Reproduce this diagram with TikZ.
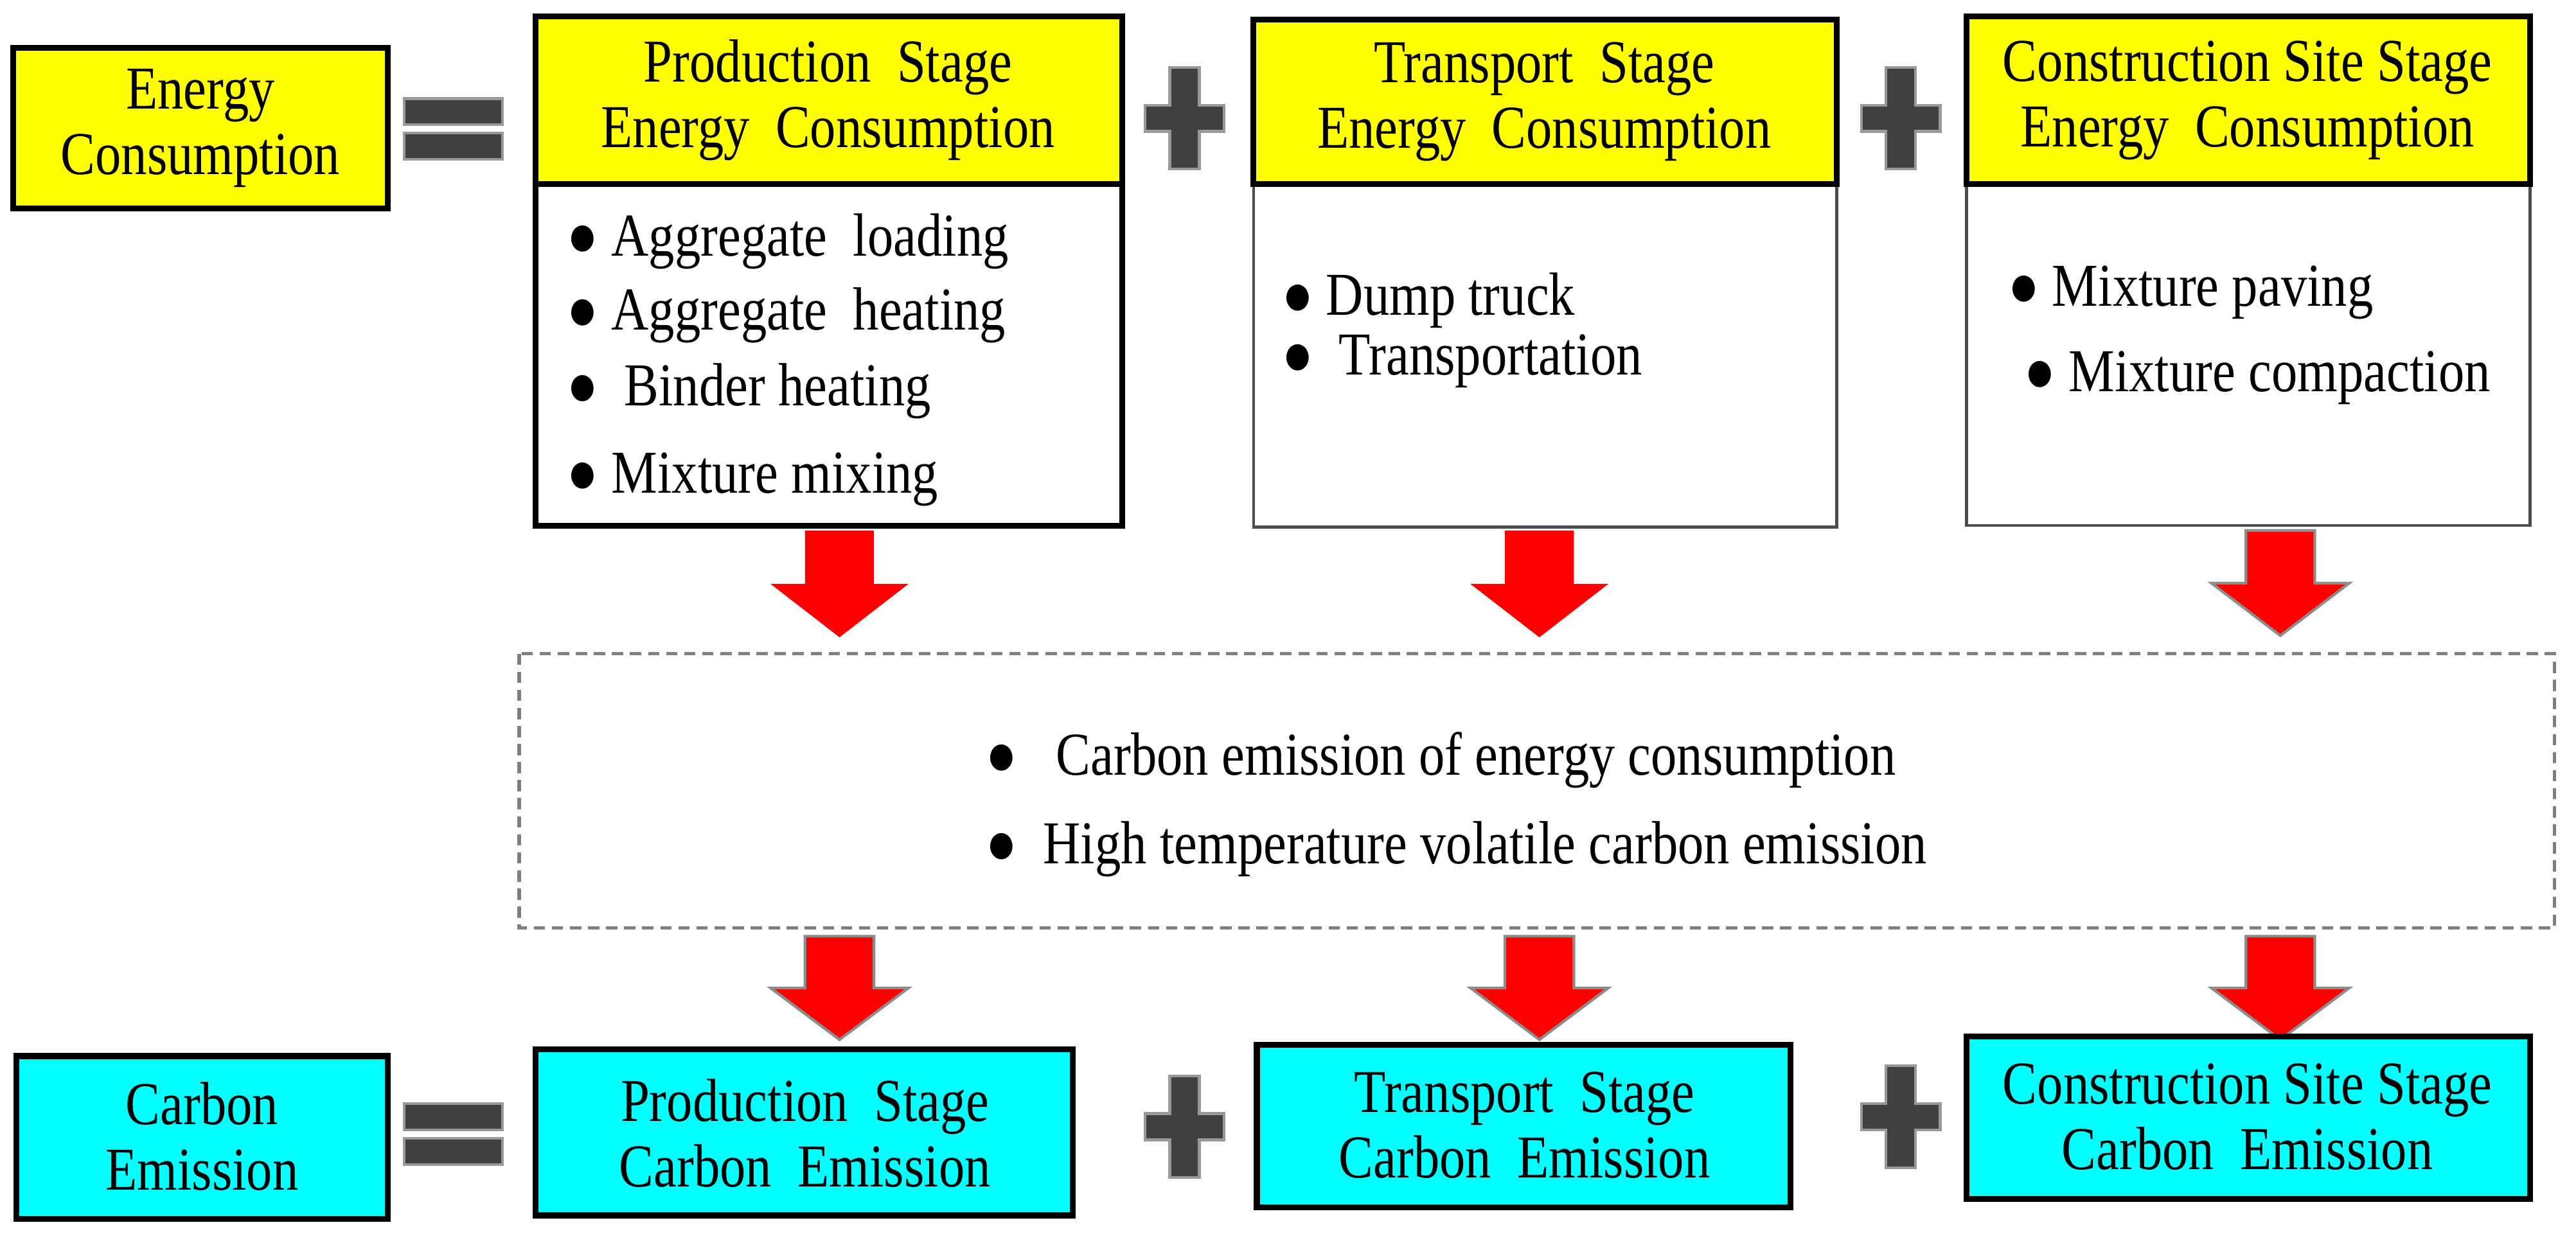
\documentclass[tikz,border=0pt]{standalone}
\usepackage{fontspec}
\setmainfont{Liberation Serif}[FakeStretch=0.85]
\definecolor{yel}{RGB}{255,255,0}
\definecolor{cya}{RGB}{0,255,255}
\begin{document}
\begin{tikzpicture}[x=0.02557cm,y=-0.02557cm,
  txt/.style={font=\fontsize{27}{29}\selectfont, align=center, inner sep=0},
  btxt/.style={font=\fontsize{27}{29}\selectfont, anchor=west, inner sep=0},
  hb/.style={draw=black, line width=2.6pt},
  bb/.style={draw=black!70, line width=1.3pt, fill=white},
  op/.style={fill=black!75, draw=black!40, line width=1.2pt},
  rarrow/.style={fill=red, draw=black!45, line width=1.2pt}]
\useasboundingbox (0,0) rectangle (1568,751);
\newcommand\plusat[2]{\path[op] (#1-9,#2-31) -- (#1+9,#2-31) -- (#1+9,#2-8) -- (#1+24,#2-8) -- (#1+24,#2+8) -- (#1+9,#2+8) -- (#1+9,#2+31) -- (#1-9,#2+31) -- (#1-9,#2+8) -- (#1-24,#2+8) -- (#1-24,#2-8) -- (#1-9,#2-8) -- cycle;}
\newcommand\equalat[2]{\path[op] (#1-30,#2-18) rectangle (#1+30,#2-2); \path[op] (#1-30,#2+3) rectangle (#1+30,#2+19);}
\newcommand\arrowat[4][rarrow]{\path[#1] (#2-21,#3) -- (#2+21,#3) -- (#2+21,#3+0.5*#4) -- (#2+42,#3+0.5*#4) -- (#2,#3+#4) -- (#2-42,#3+0.5*#4) -- (#2-21,#3+0.5*#4) -- cycle;}
% top row
\draw[hb, fill=yel] (8,29) rectangle (236,127);
\node[txt] (ec) at (122,78) {Energy\\Consumption};
\equalat{276}{78}
% production
\draw[hb, fill=white] (326,110) rectangle (683,320);
\draw[hb, fill=yel] (326,10) rectangle (683,112);
\node[txt] (pe) at (504,61) {Production\ \ Stage\\Energy\ \ Consumption};
\node[btxt] (p1) at (345,147) {●\ Aggregate\ \ loading};
\node[btxt] (p2) at (345,192) {●\ Aggregate\ \ heating};
\node[btxt] (p3) at (345,238) {●\ \ Binder heating};
\node[btxt] (p4) at (345,292) {●\ Mixture mixing};
\plusat{721}{72}
% transport
\draw[bb] (763,112) rectangle (1118,321);
\draw[hb, fill=yel] (763,12) rectangle (1118,112);
\node[txt] (te) at (940,62) {Transport\ \ Stage\\Energy\ \ Consumption};
\node[btxt] (t1) at (780,183) {●\ Dump truck};
\node[btxt] (t2) at (780,220) {●\ \ Transportation};
\plusat{1157}{72}
% construction
\draw[bb] (1197,112) rectangle (1540,320);
\draw[hb, fill=yel] (1197,10) rectangle (1540,112);
\node[txt] (ce) at (1368,61) {Construction Site Stage\\Energy\ \ Consumption};
\node[btxt] (c1) at (1222,178) {●\ Mixture paving};
\node[btxt] (c2) at (1232,230) {●\ Mixture compaction};
% arrows
\arrowat[fill=red]{511}{323}{65}
\arrowat[fill=red]{937}{323}{65}
\arrowat{1388}{323}{64}
% middle
\draw[draw=black!50, line width=1.5pt, dash pattern=on 5pt off 3pt] (316,398) rectangle (1555,565);
\node[btxt] (m1) at (600,463) {●\ \ \ Carbon emission of energy consumption};
\node[btxt] (m2) at (600,517) {●\ \ High temperature volatile carbon emission};
\arrowat{511}{570}{63}
\arrowat{937}{570}{63}
\arrowat{1388}{570}{63}
% bottom row
\draw[hb, fill=cya] (10,643) rectangle (236,742);
\node[txt] (cm) at (123,692) {Carbon\\Emission};
\equalat{276}{690}
\draw[hb, fill=cya] (326,639) rectangle (653,740);
\node[txt] (pc) at (490,690) {Production\ \ Stage\\Carbon\ \ Emission};
\plusat{721}{686}
\draw[hb, fill=cya] (765,636) rectangle (1090,735);
\node[txt] (tc) at (928,685) {Transport\ \ Stage\\Carbon\ \ Emission};
\plusat{1157}{680}
\draw[hb, fill=cya] (1197,631) rectangle (1540,730);
\node[txt] (cc) at (1368,680) {Construction Site Stage\\Carbon\ \ Emission};
\end{tikzpicture}
\end{document}
